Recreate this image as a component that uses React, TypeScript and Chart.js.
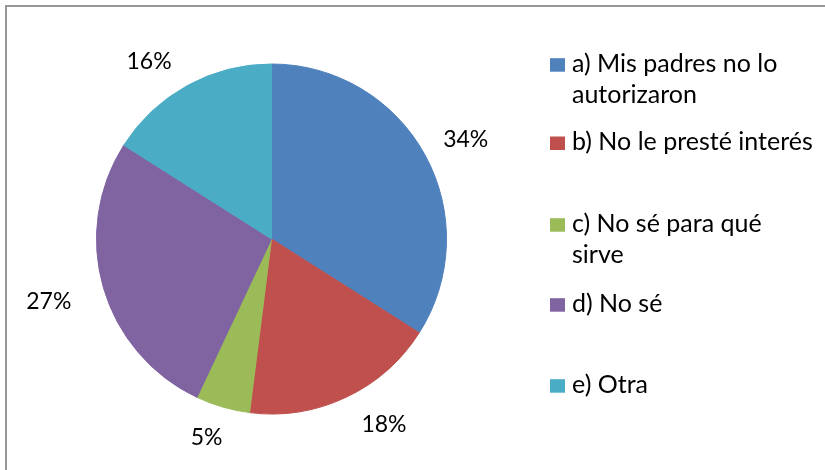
import React, { useEffect, useRef } from "react";
import { Chart, registerables } from "chart.js";

Chart.register(...registerables);

const categories = [
  "a) Mis padres no lo autorizaron",
  "b) No le presté interés",
  "c) No sé para qué sirve",
  "d) No sé",
  "e) Otra",
];
const values = [34, 18, 5, 27, 16];
const colors = ["#4F81BD", "#C0504D", "#9BBB59", "#8064A2", "#4BACC6"];

const FONT = "Lato, 'Open Sans', sans-serif";
const LABEL_FONT_SIZE = 23;
const LEGEND_FONT_SIZE = 25;
// layout constants (legend baselines for each entry's first line, line height)
const LEGEND_X = 550;
const LEGEND_TEXT_X = 572;
const LEGEND_MAX_W = 245;
const LEGEND_BASELINES = [71.7, 150, 231.7, 311.7, 392.7];
const LEGEND_LINE_H = 31.6;
const LABEL_GAP = 22;
const LABEL_NUDGE = [
  [-1, 4],
  [6, -1],
  [6, 1],
  [-11, -1],
  [-5, 3.5],
];

function wrap(ctx: CanvasRenderingContext2D, text: string, maxW: number): string[] {
  const words = text.split(" ");
  const lines: string[] = [];
  let cur = "";
  for (const w of words) {
    const t = cur ? cur + " " + w : w;
    if (ctx.measureText(t).width > maxW && cur) {
      lines.push(cur);
      cur = w;
    } else cur = t;
  }
  if (cur) lines.push(cur);
  return lines;
}

const decorPlugin = {
  id: "decor",
  beforeDraw(chart: any) {
    const ctx = chart.ctx as CanvasRenderingContext2D;
    ctx.save();
    ctx.fillStyle = "#ffffff";
    ctx.fillRect(0, 0, chart.width, chart.height);
    ctx.fillStyle = "#969696";
    ctx.fillRect(5, 5, chart.width - 5, 2);
    ctx.fillRect(5, 5, 2, chart.height - 5);
    ctx.restore();
  },
  afterDraw(chart: any) {
    const ctx = chart.ctx as CanvasRenderingContext2D;
    ctx.save();
    ctx.font = `${LABEL_FONT_SIZE}px ${FONT}`;
    ctx.fillStyle = "#000000";
    // percentage labels
    const meta = chart.getDatasetMeta(0);
    const total = values.reduce((a, b) => a + b, 0);
    meta.data.forEach((arc: any, i: number) => {
      const p = arc.getProps(["x", "y", "startAngle", "endAngle", "outerRadius"], true);
      const mid = (p.startAngle + p.endAngle) / 2;
      const c = Math.cos(mid);
      const s = Math.sin(mid);
      const txt = Math.round((values[i] / total) * 100) + "%";
      const w = ctx.measureText(txt).width;
      const h = LABEL_FONT_SIZE * 0.72;
      const px = p.x + (p.outerRadius + LABEL_GAP) * c;
      const py = p.y + (p.outerRadius + LABEL_GAP) * s;
      const cx = px + Math.sign(c) * (w / 2) + LABEL_NUDGE[i][0];
      const cy = py + Math.sign(s) * (h / 2) + LABEL_NUDGE[i][1];
      ctx.textAlign = "center";
      ctx.textBaseline = "middle";
      ctx.fillText(txt, cx, cy);
    });
    // legend
    ctx.font = `${LEGEND_FONT_SIZE}px ${FONT}`;
    ctx.textAlign = "left";
    ctx.textBaseline = "alphabetic";
    categories.forEach((cat, i) => {
      const base = LEGEND_BASELINES[i];
      ctx.fillStyle = colors[i];
      ctx.fillRect(LEGEND_X, base - 13.5, 15, 13.5);
      ctx.fillStyle = "#000000";
      const lines = wrap(ctx, cat, LEGEND_MAX_W);
      lines.forEach((ln, k) => {
        ctx.fillText(ln, LEGEND_TEXT_X, base + k * LEGEND_LINE_H);
      });
    });
    ctx.restore();
  },
};

export default function App() {
  const ref = useRef<HTMLCanvasElement>(null);
  useEffect(() => {
    document.body.style.margin = "0";
    const chart = new Chart(ref.current!, {
      type: "pie",
      data: {
        labels: categories,
        datasets: [
          {
            data: values,
            backgroundColor: colors,
            borderColor: colors,
            borderWidth: 1,
          },
        ],
      },
      options: {
        responsive: false,
        animation: false,
        devicePixelRatio: 1,
        layout: { padding: { left: 96, top: 63.5, right: 378, bottom: 55.5 } },
        plugins: {
          legend: { display: false },
          tooltip: { enabled: false },
        },
      },
      plugins: [decorPlugin],
    });
    return () => chart.destroy();
  }, []);
  return (
    <div style={{ width: 825, height: 470 }}>
      <canvas ref={ref} width={825} height={470} />
    </div>
  );
}
